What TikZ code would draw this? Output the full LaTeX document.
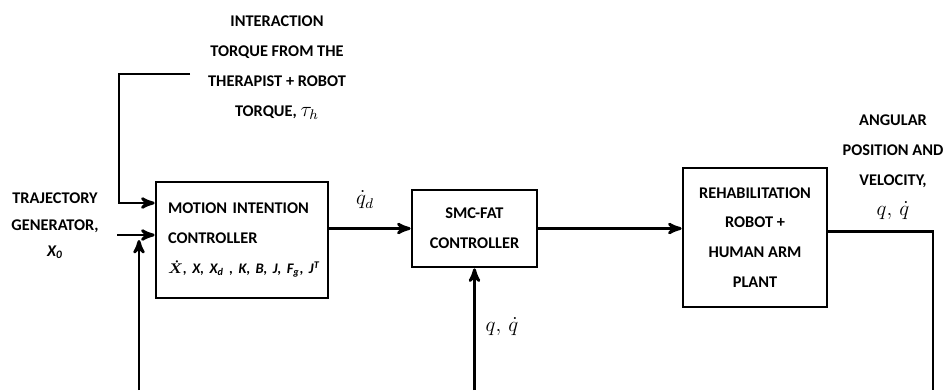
\documentclass[tikz,border=0pt]{standalone}
\usepackage{fontspec}
\setmainfont{Carlito}
\usepackage{amsmath}
\usetikzlibrary{arrows,calc}

\begin{document}
\begin{tikzpicture}[x=0.02cm,y=-0.02cm,->,>=stealth',line width=1.6pt,
  block/.style={draw,rectangle,inner sep=0pt,align=center,
    font=\fontsize{9.3}{17}\selectfont\bfseries},
  tag/.style={align=center,font=\fontsize{9.3}{17}\selectfont\bfseries},
  sig/.style={font=\fontsize{12}{14}\selectfont}]

  \useasboundingbox (0,0) rectangle (943,390);

  % the three blocks of the loop
  \node[block,text width=2.96cm,inner xsep=0.24cm,minimum height=2.32cm,align=left] (mic) at (242,240)
    {MOTION INTENTION\\CONTROLLER\\\mbox{\fontsize{8.3}{17}\selectfont\boldmath$\dot{X}$\textit{, X, X\textsubscript{d} , K, B, J, F\textsubscript{g}, J\textsuperscript{T}}}};
  \node[block,minimum width=2.5cm,minimum height=1.54cm] (smc) at (474.5,228.5) {SMC-FAT\\CONTROLLER};
  \node[block,minimum width=2.88cm,minimum height=2.78cm] (plant) at (755,237.5)
    {REHABILITATION\\ROBOT +\\HUMAN ARM\\PLANT};

  % signal labels
  \node[tag] (torque) at (277,68)
    {INTERACTION\\TORQUE FROM THE\\THERAPIST + ROBOT\\TORQUE, {\fontsize{12}{14}\selectfont$\tau_h$}};
  \node[tag,font=\fontsize{9.3}{15}\selectfont\bfseries] (traj) at (55,226)
    {TRAJECTORY\\GENERATOR,\\\textit{X\textsubscript{0}}};
  \node[tag] (angle) at (893,167)
    {ANGULAR\\POSITION AND\\VELOCITY,\\{\fontsize{12}{14}\selectfont$q,\,\dot{q}$}};
  \node[sig] (qd) at (365,200) {$\dot{q}_d$};
  \node[sig] (qfb) at (502,327) {$q,\,\dot{q}$};

  % loose ends
  \coordinate (tq) at (190,74);
  \coordinate (xin) at (117,235);
  \coordinate (fb1) at (139,390);
  \coordinate (fb2) at (474.5,390);
  \coordinate (out) at (933,390);

  \draw (tq) -- (119,74) |- ([yshift=0.74cm]mic.west);
  \draw (xin) -- (xin -| mic.west);
  \draw (fb1) -- ++(0,-150);
  \draw (mic.east |- smc.west) -- (smc.west);
  \draw (smc.east) -- (smc.east -| plant.west);
  \draw (fb2) -- (smc.south);
  \draw[-] ([yshift=0.12cm]plant.east) -| (out);
\end{tikzpicture}
\end{document}
